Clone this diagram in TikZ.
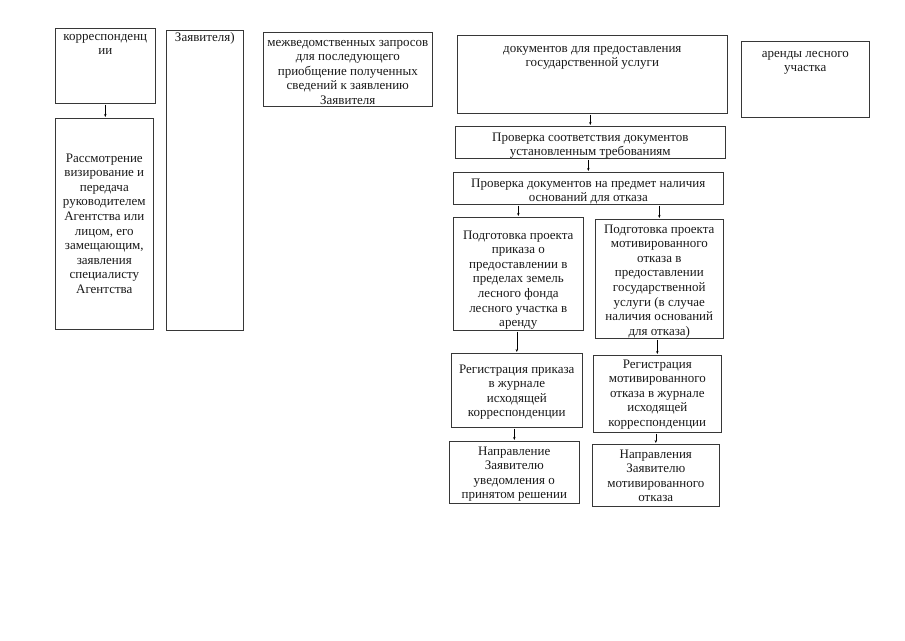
\documentclass[tikz,border=0pt]{standalone}
\usepackage{fontspec}
\setmainfont{Liberation Serif}
\usepackage{tikz}
\usetikzlibrary{arrows.meta,positioning}
\definecolor{frameline}{RGB}{55,55,55}
\definecolor{inktext}{RGB}{25,25,25}
\newcommand{\boxfont}{\fontsize{13}{14.6}\selectfont}

\begin{document}
\begin{tikzpicture}[x=1pt,y=-1pt,
    blk/.style={draw=frameline,line width=0.6pt,anchor=north west,inner sep=0pt},
    txt/.style={anchor=base,inner sep=0pt,align=flush center,font=\boxfont,
      text=inktext,text width=#1},
    arr/.style={-{Stealth[length=3pt,width=2.4pt]},line width=0.5pt,
      shorten <=1pt,shorten >=1pt}]
    \useasboundingbox (0,0) rectangle (905,640);
    % left column
    \node[blk,minimum width=100pt,minimum height=75pt] (korr) at (55,28) {};
    \node[txt=98pt] (korr-t) at (korr.north |- 0,40) {корреспонденц\\ии};
    \node[blk,minimum width=98pt,minimum height=211pt] (rassm) at (55,118) {};
    \node[txt=96pt] (rassm-t) at (rassm.north |- 0,162)
      {Рассмотрение\\визирование и\\передача\\руководителем\\Агентства или\\лицом, его\\замещающим,\\заявления\\специалисту\\Агентства};
    \node[blk,minimum width=77pt,minimum height=300pt] (zayav) at (166,30) {};
    \node[txt=75pt] (zayav-t) at (zayav.north |- 0,41) {Заявителя)};
    \node[blk,minimum width=169pt,minimum height=74pt] (mezhv) at (263,32) {};
    \node[txt=167pt] (mezhv-t) at (mezhv.north |- 0,46)
      {межведомственных запросов\\для последующего\\приобщение полученных\\сведений к заявлению\\Заявителя};
    % main column
    \node[blk,minimum width=270pt,minimum height=78pt] (dokum) at (457,35) {};
    \node[txt=268pt] (dokum-t) at (dokum.north |- 0,52)
      {документов для предоставления\\государственной услуги};
    \node[blk,minimum width=128pt,minimum height=76pt] (arend) at (741,41) {};
    \node[txt=126pt] (arend-t) at (arend.north |- 0,57) {аренды лесного\\участка};
    \node[blk,minimum width=270pt,minimum height=32pt] (prov1) at (455,126) {};
    \node[txt=268pt] (prov1-t) at (prov1.north |- 0,141)
      {Проверка соответствия документов\\установленным требованиям};
    \node[blk,minimum width=270pt,minimum height=32pt] (prov2) at (453,172) {};
    \node[txt=268pt] (prov2-t) at (prov2.north |- 0,187)
      {Проверка документов на предмет наличия\\оснований для отказа};
    % two branches
    \node[blk,minimum width=130pt,minimum height=113pt] (podgP) at (453,217) {};
    \node[txt=128pt] (podgP-t) at (podgP.north |- 0,239)
      {Подготовка проекта\\приказа о\\предоставлении в\\пределах земель\\лесного фонда\\лесного участка в\\аренду};
    \node[blk,minimum width=128pt,minimum height=119pt] (podgO) at (595,219) {};
    \node[txt=126pt] (podgO-t) at (podgO.north |- 0,233)
      {Подготовка проекта\\мотивированного\\отказа в\\предоставлении\\государственной\\услуги (в случае\\наличия оснований\\для отказа)};
    \node[blk,minimum width=131pt,minimum height=74pt] (regP) at (451,353) {};
    \node[txt=129pt] (regP-t) at (regP.north |- 0,373)
      {Регистрация приказа\\в журнале\\исходящей\\корреспонденции};
    \node[blk,minimum width=128pt,minimum height=77pt] (regO) at (593,355) {};
    \node[txt=126pt] (regO-t) at (regO.north |- 0,368)
      {Регистрация\\мотивированного\\отказа в журнале\\исходящей\\корреспонденции};
    \node[blk,minimum width=130pt,minimum height=62pt] (naprP) at (449,441) {};
    \node[txt=128pt] (naprP-t) at (naprP.north |- 0,455)
      {Направление\\Заявителю\\уведомления о\\принятом решении};
    \node[blk,minimum width=127pt,minimum height=62pt] (naprO) at (592,444) {};
    \node[txt=125pt] (naprO-t) at (naprO.north |- 0,458)
      {Направления\\Заявителю\\мотивированного\\отказа};
    % arrows
    \draw[arr] (korr.south) -- (korr.south |- rassm.north);
    \draw[arr] (prov1.north |- dokum.south) -- (prov1.north);
    \draw[arr] (prov2.north |- prov1.south) -- (prov2.north);
    \draw[arr] (podgP.north |- prov2.south) -- (podgP.north);
    \draw[arr] (podgO.north |- prov2.south) -- (podgO.north);
    \draw[arr] (regP.north |- podgP.south) -- (regP.north);
    \draw[arr] (regO.north |- podgO.south) -- (regO.north);
    \draw[arr] (naprP.north |- regP.south) -- (naprP.north);
    \draw[arr] (naprO.north |- regO.south) -- (naprO.north);
\end{tikzpicture}
\end{document}
